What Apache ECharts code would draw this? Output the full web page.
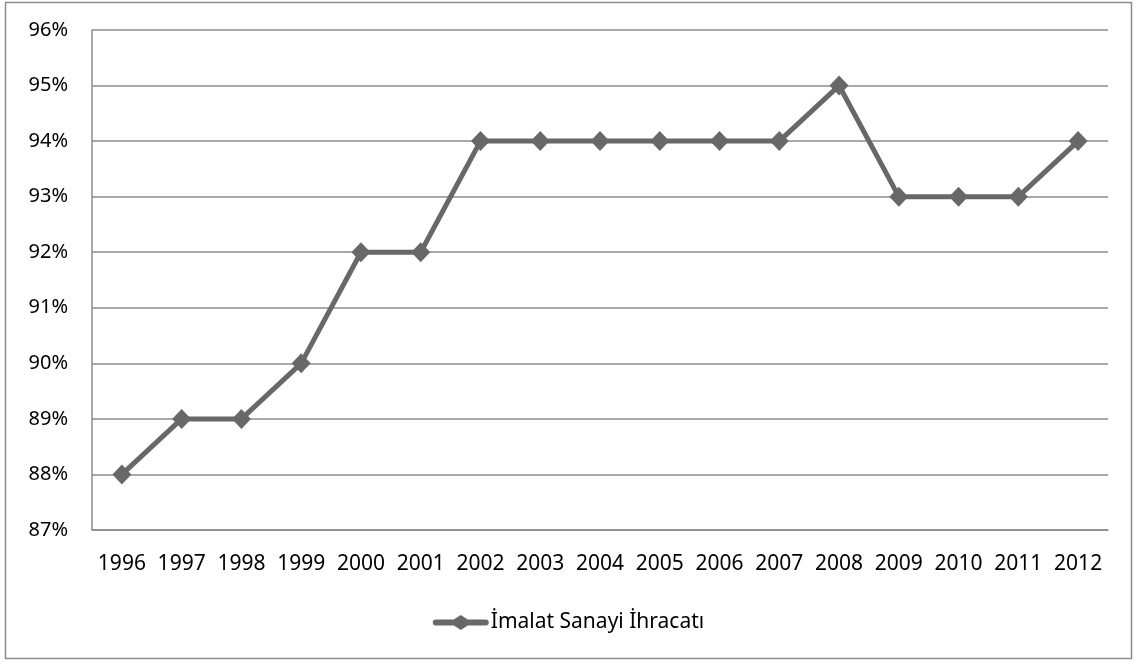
<!DOCTYPE html>
<html>
<head>
<meta charset="utf-8">
<script src="https://cdn.jsdelivr.net/npm/echarts@6/dist/echarts.min.js"></script>
<style>
  html, body { margin: 0; padding: 0; background: #fff; }
  #chart { width: 1137px; height: 664px; }
</style>
</head>
<body>
<div id="chart"></div>
<script>
const years = ['1996', '1997', '1998', '1999', '2000', '2001', '2002', '2003', '2004',
  '2005', '2006', '2007', '2008', '2009', '2010', '2011', '2012']
const exportShare = [88, 89, 89, 90, 92, 92, 94, 94, 94, 94, 94, 94, 95, 93, 93, 93, 94]
const seriesName = 'İmalat Sanayi İhracatı'

const LINE_COLOR = '#686868'
const GRID_COLOR = '#8c8c8c'
const FONT = 'Noto Sans'

const chart = echarts.init(document.getElementById('chart'))

chart.setOption({
  backgroundColor: '#fff',
  animation: false,
  graphic: [
    {
      type: 'rect',
      shape: { x: 5.5, y: 2.5, width: 1126, height: 656 },
      style: { fill: 'none', stroke: '#8c8c8c', lineWidth: 1.5 },
      silent: true,
    },
  ],
  grid: { left: 92, right: 29, top: 30, bottom: 134, containLabel: false },
  legend: {
    bottom: 26,
    left: 'center',
    itemWidth: 58,
    itemHeight: 15,
    itemGap: 0,
    textStyle: { color: '#000', fontFamily: FONT, fontSize: 21, padding: [0, 0, 0, -4] },
    data: [{ name: seriesName, icon: 'path://M3,4.5 L21,4.5 L28,0 L35,4.5 L53,4.5 A3,3 0 0 1 53,10.5 L35,10.5 L28,15 L21,10.5 L3,10.5 A3,3 0 0 1 3,4.5 Z' }],
  },
  xAxis: {
    type: 'category',
    data: years,
    boundaryGap: true,
    axisLine: { show: true, lineStyle: { color: GRID_COLOR, width: 1.5 } },
    axisTick: { show: false },
    axisLabel: { color: '#000', fontFamily: FONT, fontSize: 21, margin: 24, interval: 0, hideOverlap: false },
    splitLine: { show: false },
  },
  yAxis: {
    type: 'value',
    min: 87,
    max: 96,
    interval: 1,
    axisLine: { show: true, lineStyle: { color: GRID_COLOR, width: 1.5 } },
    axisTick: { show: false },
    axisLabel: { color: '#000', fontFamily: FONT, fontSize: 20, margin: 24, formatter: v => v + '%' },
    splitLine: { show: true, lineStyle: { color: GRID_COLOR, width: 1.5 } },
  },
  series: [
    {
      name: seriesName,
      type: 'line',
      data: exportShare,
      color: LINE_COLOR,
      lineStyle: { color: LINE_COLOR, width: 5 },
      itemStyle: { color: LINE_COLOR },
      symbol: 'diamond',
      symbolSize: [19, 20],
      showSymbol: true,
    },
  ],
})
</script>
</body>
</html>
